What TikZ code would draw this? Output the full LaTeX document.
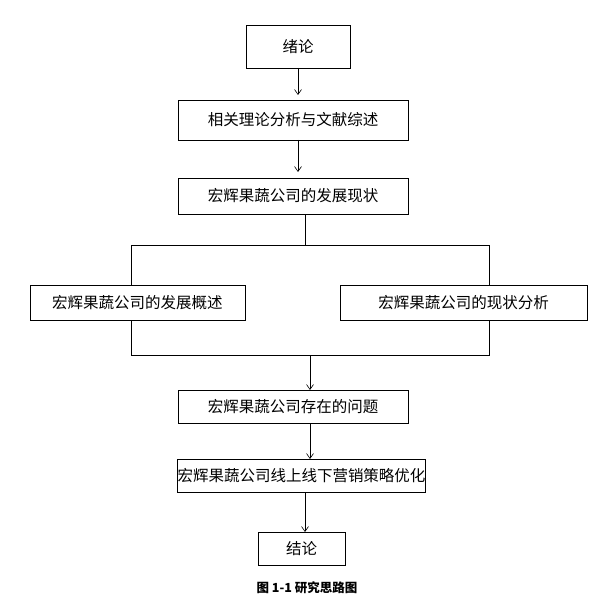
\documentclass[tikz,border=0pt]{standalone}
\usepackage{fontspec}
\setmainfont{Noto Sans CJK SC}
\usetikzlibrary{arrows.meta}
\begin{document}
\begin{tikzpicture}[x=1pt,y=-1pt,
  box/.style={draw,line width=0.8pt,inner sep=0pt,font=\fontsize{15.5}{17}\selectfont},
  arr/.style={-{Straight Barb[length=5pt,width=7pt]},line width=0.6pt},
  ln/.style={line width=0.6pt}]
\useasboundingbox (0,0) rectangle (614,610);
\node[box,minimum width=104pt,minimum height=43pt] (b1) at (298,46.5) {绪论};
\node[box,minimum width=230pt,minimum height=40pt] (b2) at (293,120) {相关理论分析与文献综述};
\node[box,minimum width=230pt,minimum height=36pt] (b3) at (293,196) {宏辉果蔬公司的发展现状};
\node[box,minimum width=215pt,minimum height=35pt] (l) at (137.5,302.5) {宏辉果蔬公司的发展概述};
\node[box,minimum width=247pt,minimum height=35pt] (r) at (463.5,302.5) {宏辉果蔬公司的现状分析};
\node[box,minimum width=230pt,minimum height=33pt] (b4) at (293,406.5) {宏辉果蔬公司存在的问题};
\node[box,minimum width=247pt,minimum height=33pt] (b5) at (301.5,475.5) {宏辉果蔬公司线上线下营销策略优化};
\node[box,minimum width=87pt,minimum height=33pt] (b6) at (301.5,548.5) {结论};
\node[font=\bfseries\fontsize{12.5}{14}\selectfont] (cap) at (307,588) {图 1-1\ 研究思路图};
\coordinate (t1) at (131,245); \coordinate (t2) at (489,245);
\coordinate (u1) at (131,355); \coordinate (u2) at (489,355);
\draw[arr] (298,68) -- (298,95);
\draw[arr] (298,140) -- (298,172);
\draw[ln] (305,214) -- (305,245);
\draw[ln] (t1) -- (t2);
\draw[ln] (t1) -- (131,285); \draw[ln] (t2) -- (489,285);
\draw[ln] (131,320) -- (u1) -- (u2) -- (489,320);
\draw[arr] (310,355) -- (310,390);
\draw[arr] (310,423) -- (310,459);
\draw[arr] (305,492) -- (305,532);
\end{tikzpicture}
\end{document}
